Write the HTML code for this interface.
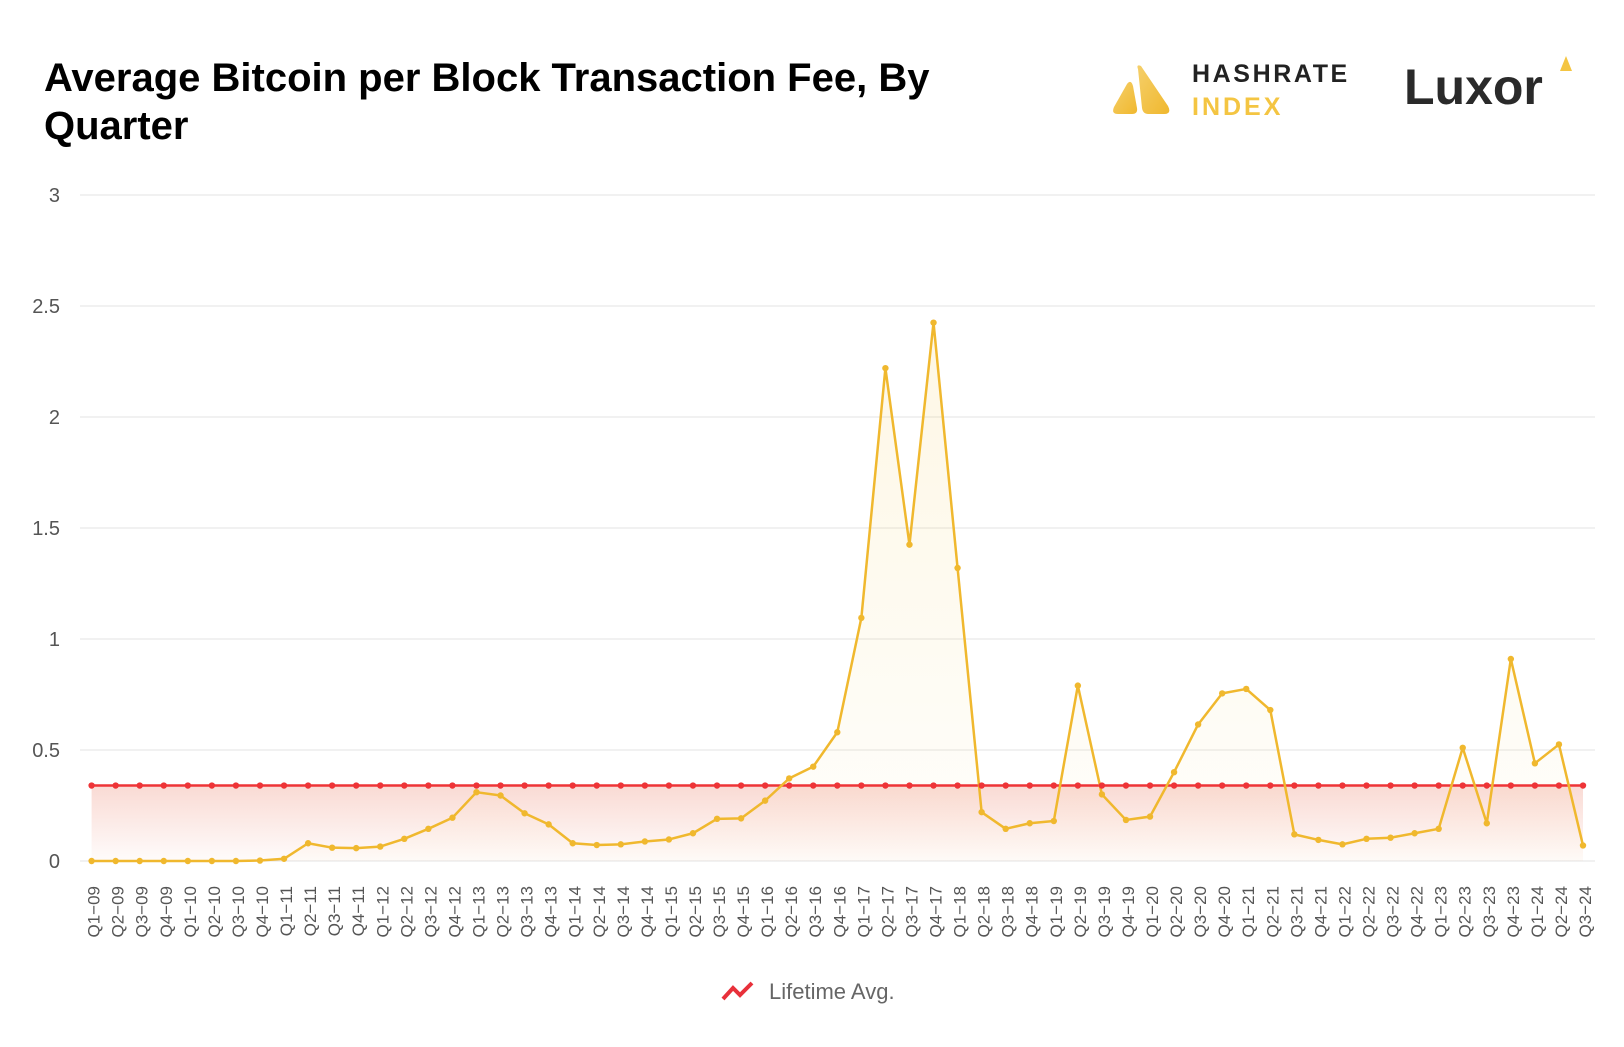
<!DOCTYPE html>
<html><head><meta charset="utf-8"><style>
body{margin:0;background:#fff;width:1624px;height:1042px;overflow:hidden;font-family:"Liberation Sans",sans-serif}
</style></head><body>
<svg width="1624" height="1042" viewBox="0 0 1624 1042" xmlns="http://www.w3.org/2000/svg">
<defs>
<linearGradient id="gy" x1="0" y1="0" x2="0" y2="1"><stop offset="0" stop-color="#f4c542" stop-opacity="0.14"/><stop offset="1" stop-color="#f4c542" stop-opacity="0.02"/></linearGradient>
<linearGradient id="gr" x1="0" y1="0" x2="0" y2="1"><stop offset="0" stop-color="#e8583a" stop-opacity="0.22"/><stop offset="1" stop-color="#e8583a" stop-opacity="0.02"/></linearGradient>
<linearGradient id="lg" x1="0" y1="0" x2="1" y2="1"><stop offset="0" stop-color="#f5cf6a"/><stop offset="1" stop-color="#f0b82e"/></linearGradient>
</defs>
<text x="44" y="91" font-size="40" font-weight="bold" fill="#000">Average Bitcoin per Block Transaction Fee, By</text>
<text x="44" y="139" font-size="40" font-weight="bold" fill="#000">Quarter</text>
<g>
<path d="M1124 114 L1118 114 Q1111 114 1114 107 L1127 84 Q1131 79 1133 86 L1137 108 Q1138 114 1132 114 Z" fill="url(#lg)"/>
<path d="M1138 69 Q1136 64 1141 66 L1168 106 Q1172 114 1164 114 L1148 114 Q1143 114 1142 108 Z" fill="url(#lg)"/>
<text x="1192" y="82" font-size="25" font-weight="bold" fill="#222" letter-spacing="2.6">HASHRATE</text>
<text x="1192" y="115" font-size="25" font-weight="bold" fill="#f4c542" letter-spacing="3">INDEX</text>
</g>
<g>
<text x="1404" y="104" font-size="50" font-weight="bold" fill="#2a2a2a">Luxor</text>
<path d="M1560 71 L1566 56 L1572 71 Z" fill="#f4c542"/>
</g>
<g id="grid"></g>
<g id="plot"></g>
<g id="xl"></g>
<g>
<path d="M723 999 L733 988 L740 995 L752 983" stroke="#e8303a" stroke-width="4" fill="none"/>
<text x="769" y="999" font-size="22" fill="#666">Lifetime Avg.</text>
</g>
</svg>
<script>
const categories=[];for(let y=9;y<=24;y++)for(let q=1;q<=4;q++){if(y===24&&q===4)break;categories.push('Q'+q+'\u2212'+String(y).padStart(2,'0'));}
const feeValues=[0,0,0,0,0,0,0,0.002,0.01,0.08,0.06,0.058,0.065,0.1,0.145,0.195,0.31,0.295,0.215,0.165,0.08,0.072,0.075,0.088,0.097,0.125,0.19,0.192,0.272,0.372,0.425,0.58,1.095,2.22,1.425,2.425,1.32,0.22,0.145,0.17,0.18,0.79,0.3,0.185,0.2,0.4,0.615,0.755,0.775,0.68,0.12,0.095,0.075,0.1,0.105,0.125,0.145,0.51,0.17,0.91,0.44,0.525,0.07];
const lifetimeAvg=0.34;
const yTicks=[0,0.5,1,1.5,2,2.5,3];
const yTickLabels=['0','0.5','1','1.5','2','2.5','3'];
const NS='http://www.w3.org/2000/svg';
const X0=91.6,X1=1583,Y0=861,Y3=195,yMax=3;
const xs=i=>X0+(X1-X0)*i/(categories.length-1);
const ys=v=>Y0-(Y0-Y3)*v/yMax;
function mk(t,a,p){const e=document.createElementNS(NS,t);for(const k in a)e.setAttribute(k,a[k]);p.appendChild(e);return e;}
const grid=document.getElementById('grid'),plot=document.getElementById('plot'),xl=document.getElementById('xl');
yTicks.forEach((t,i)=>{
 const l=mk('line',{x1:80,x2:1595,y1:ys(t),y2:ys(t),stroke:'#e3e3e3','stroke-width':1},grid);
 
 
 const tx=mk('text',{x:60,y:ys(t)+7,'text-anchor':'end','font-size':20,fill:'#555'},grid);
 tx.textContent=yTickLabels[i];
 
 
});
const n=categories.length;
let area='M'+xs(0)+' '+Y0;feeValues.forEach((v,i)=>area+=' L'+xs(i)+' '+ys(v));area+=' L'+xs(n-1)+' '+Y0+'Z';
const fa=mk('path',{d:area,fill:'url(#gy)'},plot);


const ra=mk('rect',{x:xs(0),y:ys(lifetimeAvg),width:xs(n-1)-xs(0),height:Y0-ys(lifetimeAvg),fill:'url(#gr)'},plot);


const al=mk('line',{x1:xs(0),x2:xs(n-1),y1:ys(lifetimeAvg),y2:ys(lifetimeAvg),stroke:'#ee3437','stroke-width':2.5},plot);


const fl=mk('polyline',{points:feeValues.map((v,i)=>xs(i)+','+ys(v)).join(' '),fill:'none',stroke:'#f0b82e','stroke-width':2.5,'stroke-linejoin':'round'},plot);


for(let i=0;i<n;i++){
 const a=mk('circle',{cx:xs(i),cy:ys(lifetimeAvg),r:3.2,fill:'#ee3437'},plot);
 
 
}
feeValues.forEach((v,i)=>{
 const c=mk('circle',{cx:xs(i),cy:ys(v),r:3.2,fill:'#f0b82e'},plot);
 
 
 const t=mk('text',{x:0,y:0,'text-anchor':'end','font-size':17,fill:'#555',transform:'translate('+(xs(i)+8)+',886) rotate(-90)'},xl);
 t.textContent=categories[i];
 
 
});
</script>
</body></html>
